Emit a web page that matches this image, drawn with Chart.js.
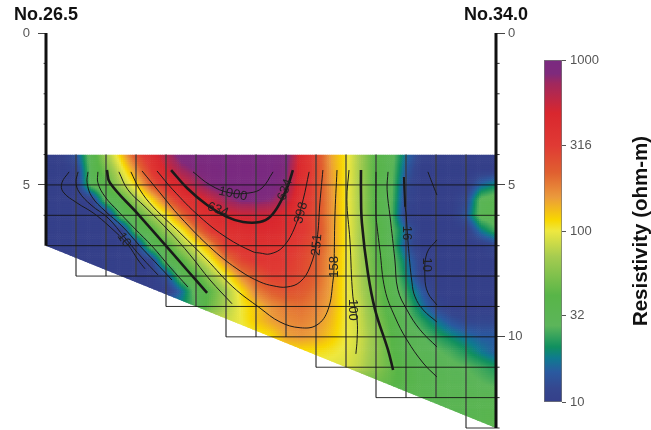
<!DOCTYPE html>
<html>
<head>
<meta charset="utf-8">
<title>Resistivity section</title>
<script src="https://cdn.jsdelivr.net/npm/chart.js@4"></script>
<style>
  body { margin: 0; background: #fff; }
  canvas { position: absolute; top: 0; }
  #section { left: 0; }
  #colorbar { left: 535px; }
</style>
</head>
<body>
<canvas id="section" width="651" height="430"></canvas>
<canvas id="colorbar" width="116" height="430"></canvas>
<script>
const _ = null;
const stationLabels = ['No.26.5', 'No.34.0'];
const stationDistance = [0, 15];
const leftTicks = [0, 5];
const rightTicks = [0, 5, 10];
const leftMinorTicks = [1, 2, 3, 4, 6];
const rightMinorTicks = [1, 2, 3, 4, 6, 7, 8, 9, 11, 12, 13];
const colorbarTicks = [10, 32, 100, 316, 1000];
const colorbarTitle = 'Resistivity (ohm-m)';

// resistivity, ohm-m
const distanceNodes = [0, 0.5, 1, 1.5, 2, 2.5, 3, 3.5, 4, 4.5, 5, 5.5, 6, 6.5, 7, 7.5, 8, 8.5, 9, 9.5, 10, 10.5, 11, 11.5, 12, 12.5, 13, 13.5, 14, 14.5, 15];
const depthNodes = [4, 4.5, 5, 5.5, 6, 6.5, 7, 7.5, 8, 8.5, 9, 9.5, 10, 10.5, 11, 11.5, 12, 12.5, 13];
const resistivity = [
  [10,10,14,33,67,125,260,420,650,940,1000,1000,1000,1000,1000,1000,950,450,280,150,108,68,40,32,17,11,10,10,10,10,10],
  [10,10,11,31,52,92,170,320,510,720,860,960,1000,1000,1000,1000,870,420,275,155,106,68,40,31,15,10,10,10,10,10,10],
  [10,10,10,30,41,71,114,230,380,500,680,880,1000,1000,1000,1000,800,400,270,160,105,68,39,30,13,10,10,10,10,16,20],
  [10,10,10,10,30,39,68,110,210,350,430,550,730,850,850,800,620,370,270,165,105,68,39,29,12,10,10,10,12,30,35],
  [10,10,10,10,10,30,39,66,102,200,340,420,490,530,540,530,440,330,260,165,105,68,39,28,11,10,10,10,14,32,35],
  [10,10,10,10,10,10,30,39,66,100,190,330,380,410,440,440,400,330,270,165,105,68,42,30,16,10,10,10,10,18,26],
  [10,10,10,10,10,10,11,31,39,66,97,165,325,350,370,370,340,300,250,165,105,68,42,30,14,10,10,10,10,10,12],
  [_,_,_,10,10,10,10,11,31,40,66,100,180,280,330,340,320,280,225,160,103,70,44,32,18,11,10,10,10,10,10],
  [_,_,_,_,_,10,10,10,13,32,40,66,100,170,240,300,300,270,220,155,102,72,46,34,20,11,10,10,10,10,10],
  [_,_,_,_,_,_,_,_,10,16,32,44,70,110,180,225,250,235,200,150,102,74,50,36,24,15,10,10,10,10,10],
  [_,_,_,_,_,_,_,_,_,20,28,50,74,102,128,165,190,200,180,145,102,80,52,37,28,18,12,10,10,10,10],
  [_,_,_,_,_,_,_,_,_,_,_,_,85,100,125,150,170,180,165,135,100,82,58,40,30,24,18,14,12,12,12],
  [_,_,_,_,_,_,_,_,_,_,_,_,_,95,100,112,150,160,150,125,100,84,62,42,31,29,24,20,17,15,15],
  [_,_,_,_,_,_,_,_,_,_,_,_,_,_,_,_,_,110,110,105,96,82,62,44,34,31,29,26,22,18,15],
  [_,_,_,_,_,_,_,_,_,_,_,_,_,_,_,_,_,_,_,_,92,78,60,46,38,33,31,30,28,25,22],
  [_,_,_,_,_,_,_,_,_,_,_,_,_,_,_,_,_,_,_,_,_,_,50,44,38,34,32,31,30,28,26],
  [_,_,_,_,_,_,_,_,_,_,_,_,_,_,_,_,_,_,_,_,_,_,_,_,_,35,33,32,32,32,32],
  [_,_,_,_,_,_,_,_,_,_,_,_,_,_,_,_,_,_,_,_,_,_,_,_,_,_,_,33,33,34,35],
  [_,_,_,_,_,_,_,_,_,_,_,_,_,_,_,_,_,_,_,_,_,_,_,_,_,_,_,_,_,36,38]
];

const paletteValues = [1000, 832, 731, 489, 316, 219, 158, 116, 100, 71, 42, 28, 21, 18, 15, 12, 10];
const paletteColors = ['#7a2a80', '#7f2a7c', '#a0285e', '#d9272e', '#e03a34', '#e06030', '#eb9a3c', '#f8d700', '#eee840', '#a6cc50', '#58b548', '#5cb55a', '#10905f', '#0f7a90', '#2a5aa0', '#35478f', '#35408a'];

// section outline and the depth each grid column stops at
const outlineDistance = [0, 15, 15, 0];
const outlineDepth = [4, 4, 13, 7];
const cellBottoms = [7, 8, 8, 8, 9, 9, 10, 10, 10, 11, 11, 12, 12, 12, 13];
const gridTop = 4;
const gridDepths = [5, 6, 7, 8, 9, 10, 11, 12, 13];

// contours as [distance, depth]
const contourLeft10 = [[.77,4.57],[.53,4.93],[.57,5.23],[1.03,5.59],[1.57,5.92],[2.13,6.38],[2.73,6.97],[3.07,7.47],[3.3,7.76]];
const contourLeft16 = [[1.07,4.57],[1,4.9],[1.1,5.23],[1.5,5.66],[2.07,6.09],[2.63,6.74],[3.2,7.4],[3.73,7.96]];
const contourLeft25 = [[1.4,4.57],[1.37,4.93],[1.53,5.39],[1.97,5.86],[2.53,6.35],[3.13,7.01],[3.63,7.53],[4.2,8.13]];
const contourLeft40 = [[1.73,4.57],[1.73,4.93],[1.97,5.39],[2.4,5.86],[2.97,6.45],[3.53,7.01],[4.13,7.7],[4.73,8.36]];
const contourLeft63 = [[2.03,4.51],[2.13,4.93],[3.03,5.92],[4.03,7.04],[4.7,7.8],[5.37,8.55]];
const contourLeft100 = [[2.43,4.57],[2.73,5.16],[3.3,5.72],[4.13,6.55],[4.8,7.3],[5.47,8.13],[6.2,8.91]];
const contour158 = [[2.83,4.57],[3.13,5.16],[3.57,5.72],[4.47,6.58],[5.37,7.47],[6.23,8.36],[7.13,9.05],[7.8,9.51],[8.47,9.7],[9.03,9.61],[9.4,9.11],[9.57,8.13],[9.6,7.7],[9.63,6.05],[9.7,4.51]];
const contour251 = [[3.2,4.54],[3.8,5.26],[4.47,6.05],[5.57,7.14],[6.47,7.83],[7.13,8.19],[7.57,8.32],[8.03,8.36],[8.47,8.19],[8.8,7.7],[9.03,6.81],[9.13,5.59],[9.23,4.51]];
const contour398 = [[3.7,4.54],[4.23,5.16],[5.13,6.05],[6.03,6.74],[6.9,7.2],[7.13,7.24],[7.47,7.27],[7.9,7.04],[8.3,6.38],[8.57,5.49],[8.77,4.57]];
const contour634 = [[4.17,4.51],[4.7,5.1],[5.37,5.66],[6.03,6.05],[6.57,6.22],[7.13,6.22],[7.47,6.05],[7.8,5.59],[8.07,5],[8.23,4.51]];
const contour1000 = [[4.9,4.57],[5.47,5],[6.13,5.26],[6.8,5.26],[7.2,5.1],[7.57,4.57]];
const contourRight100 = [[10.1,4.51],[10.03,5.49],[10.13,6.81],[10.23,8.68],[10.37,9.44],[10.37,10.1],[10.33,10.56]];
const contourRight63 = [[10.5,4.51],[10.5,5.26],[10.53,6.25],[10.73,7.9],[10.97,9.11],[11.4,10.43],[11.57,11.09]];
const contourRight40 = [[11,4.57],[11,6.0],[11.03,6.32],[11.13,7.14],[11.3,8.45],[11.63,9.34],[12.03,10.1],[12.57,10.86],[13.03,11.32]];
const contourRight25 = [[11.4,4.57],[11.37,5.16],[11.47,6.05],[11.63,7.47],[11.73,8.45],[12.03,9.11],[12.47,9.77],[13.03,10.33]];
const contourRight16 = [[11.93,4.74],[11.97,5.72],[12,5.92],[12.07,6.91],[12.2,8.22],[12.3,8.68],[12.57,9.11],[13.03,9.51]];
const contourRight16Heavy = [[11.93,4.74],[11.97,5.72]];
const contourRight10Top = [[12.73,4.57],[12.87,4.93],[13.03,5.33]];
const contourRight10Low = [[13.03,6.81],[12.7,7.24],[12.63,8.03],[12.73,8.55],[13.03,8.95]];

const thinContours = [contourLeft10, contourLeft16, contourLeft25, contourLeft40, contourLeft100, contour158, contour251, contour398, contour1000, contourRight100, contourRight40, contourRight25, contourRight16, contourRight10Top, contourRight10Low];
const boldContours = [contourLeft63, contour634, contourRight63];

const contourLabels = ['10', '634', '1000', '634', '398', '251', '158', '100', '16', '10'];
const labelDistance = [2.6, 5.73, 6.23, 7.97, 8.5, 9.03, 9.6, 10.23, 12.03, 12.67];
const labelDepth = [6.81, 5.82, 5.3, 5.16, 5.92, 6.97, 7.7, 9.11, 6.58, 7.63];
const labelAngle = [55, 20, 12, -70, -75, -85, -90, 90, 90, 90];

const FONT = '"Liberation Sans", Arial, sans-serif';

function hexToRgb(h) {
  return [parseInt(h.slice(1, 3), 16), parseInt(h.slice(3, 5), 16), parseInt(h.slice(5, 7), 16)];
}
const paletteLog = paletteValues.map(Math.log10);
const paletteRgb = paletteColors.map(hexToRgb);

function colorFor(logv) {
  for (let i = 0; i < paletteLog.length - 1; i++) {
    if (logv >= paletteLog[i + 1]) {
      const t = (logv - paletteLog[i + 1]) / (paletteLog[i] - paletteLog[i + 1]);
      const a = paletteRgb[i + 1], b = paletteRgb[i];
      return `rgb(${a[0] + (b[0] - a[0]) * t},${a[1] + (b[1] - a[1]) * t},${a[2] + (b[2] - a[2]) * t})`;
    }
  }
  return paletteColors[paletteColors.length - 1];
}

// nodes under the section take the nearest value to their right, only used at the clipped edge
function nodeLog(r, c) {
  let v = resistivity[r][c];
  while (v === null) v = resistivity[r][++c];
  return Math.log10(v);
}

const fieldPlugin = {
  id: 'field',
  beforeDatasetsDraw(chart) {
    const { ctx } = chart;
    const xs = chart.scales.x, ys = chart.scales.y;
    ctx.save();
    ctx.beginPath();
    outlineDistance.forEach((d, i) => {
      ctx.lineTo(xs.getPixelForValue(d), ys.getPixelForValue(outlineDepth[i]));
    });
    ctx.closePath();
    ctx.clip();
    const sub = 8;
    for (let r = 0; r < depthNodes.length - 1; r++) {
      const y0 = ys.getPixelForValue(depthNodes[r]), y1 = ys.getPixelForValue(depthNodes[r + 1]);
      for (let c = 0; c < distanceNodes.length - 1; c++) {
        const x0 = xs.getPixelForValue(distanceNodes[c]), x1 = xs.getPixelForValue(distanceNodes[c + 1]);
        const a = nodeLog(r, c), b = nodeLog(r, c + 1), d = nodeLog(r + 1, c), e = nodeLog(r + 1, c + 1);
        for (let i = 0; i < sub; i++) {
          const v = (i + 0.5) / sub;
          for (let j = 0; j < sub; j++) {
            const u = (j + 0.5) / sub;
            ctx.fillStyle = colorFor((a * (1 - u) + b * u) * (1 - v) + (d * (1 - u) + e * u) * v);
            ctx.fillRect(x0 + (x1 - x0) * j / sub, y0 + (y1 - y0) * i / sub, (x1 - x0) / sub + 0.6, (y1 - y0) / sub + 0.6);
          }
        }
      }
    }
    ctx.restore();
  },
  afterDatasetsDraw(chart) {
    const { ctx } = chart;
    const xs = chart.scales.x, ys = chart.scales.y;
    ctx.save();
    ctx.textAlign = 'center';
    ctx.textBaseline = 'middle';
    ctx.fillStyle = '#222';
    ctx.font = '13px ' + FONT;
    contourLabels.forEach((t, i) => {
      ctx.save();
      ctx.translate(xs.getPixelForValue(labelDistance[i]), ys.getPixelForValue(labelDepth[i]));
      ctx.rotate(labelAngle[i] * Math.PI / 180);
      ctx.fillText(t, 0, 0);
      ctx.restore();
    });
    ctx.fillStyle = '#111';
    ctx.font = 'bold 18px ' + FONT;
    stationLabels.forEach((t, i) => {
      ctx.fillText(t, xs.getPixelForValue(stationDistance[i]), 15);
    });
    ctx.restore();
  }
};

const barTitlePlugin = {
  id: 'barTitle',
  afterDraw(chart) {
    const { ctx } = chart;
    const ys = chart.scales.y;
    ctx.save();
    ctx.translate(106, (ys.top + ys.bottom) / 2);
    ctx.rotate(-Math.PI / 2);
    ctx.textAlign = 'center';
    ctx.textBaseline = 'middle';
    ctx.fillStyle = '#111';
    ctx.font = 'bold 20.5px ' + FONT;
    ctx.fillText(colorbarTitle, 0, 0);
    ctx.restore();
  }
};

function verticalGrid() {
  const pts = [];
  for (let i = 1; i < cellBottoms.length; i++) {
    const bottom = Math.max(cellBottoms[i - 1], cellBottoms[i]);
    pts.push({ x: i, y: gridTop }, { x: i, y: bottom }, { x: NaN, y: NaN });
  }
  return pts;
}

function horizontalGrid() {
  const pts = [];
  gridDepths.forEach(d => {
    const first = cellBottoms.findIndex(b => b >= d);
    pts.push({ x: first, y: d }, { x: 15, y: d }, { x: NaN, y: NaN });
  });
  return pts;
}

function minorPoints(list, from, to) {
  const pts = [];
  list.forEach(d => pts.push({ x: from, y: d }, { x: to, y: d }, { x: NaN, y: NaN }));
  return pts;
}

function contourSet(points, width) {
  return {
    data: points.map(p => ({ x: p[0], y: p[1] })),
    showLine: true, borderColor: '#1a1a1a', borderWidth: width,
    pointRadius: 0, tension: 0.4, fill: false, clip: false
  };
}

function plainSet(points, color, width) {
  return {
    data: points, showLine: true, borderColor: color, borderWidth: width,
    pointRadius: 0, tension: 0, fill: false, clip: false, spanGaps: false
  };
}

// the tick label margins would otherwise push the plot up from the bottom edge
function fitVertical(width) {
  return s => { s.width = width; s.paddingTop = 0; s.paddingBottom = 0; };
}

new Chart(document.getElementById('section'), {
  type: 'scatter',
  plugins: [fieldPlugin],
  data: {
    datasets: [
      plainSet([{ x: 0, y: 0 }, { x: 0, y: 7 }], '#111', 3),
      plainSet([{ x: 15, y: 0 }, { x: 15, y: 13 }], '#111', 3),
      plainSet(minorPoints(leftMinorTicks, -0.08, 0), '#333', 1),
      plainSet(minorPoints(rightMinorTicks, 15, 15.12), '#333', 1),
      ...boldContours.map(c => contourSet(c, 2.6)),
      contourSet(contourRight16Heavy, 2),
      ...thinContours.map(c => contourSet(c, 1)),
      plainSet(horizontalGrid(), 'rgba(15,15,15,0.85)', 1),
      plainSet(verticalGrid(), 'rgba(60,60,60,0.55)', 1)
    ]
  },
  options: {
    responsive: false,
    animation: false,
    layout: { padding: { top: 33, bottom: 2, left: 0, right: 0 } },
    plugins: { legend: { display: false }, tooltip: { enabled: false } },
    scales: {
      x: { type: 'linear', display: false, min: 0, max: 15 },
      y: {
        type: 'linear', position: 'left', reverse: true, min: 0, max: 13,
        afterFit: fitVertical(46),
        afterBuildTicks: s => { s.ticks = leftTicks.map(v => ({ value: v })); },
        border: { display: false },
        grid: { drawOnChartArea: false, tickLength: 8, tickColor: '#444' },
        ticks: { color: '#555', font: { size: 13, family: FONT }, padding: 8, callback: v => String(v) }
      },
      y2: {
        type: 'linear', position: 'right', reverse: true, min: 0, max: 13,
        afterFit: fitVertical(155),
        afterBuildTicks: s => { s.ticks = rightTicks.map(v => ({ value: v })); },
        border: { display: false },
        grid: { drawOnChartArea: false, tickLength: 9, tickColor: '#444' },
        ticks: { color: '#555', font: { size: 13, family: FONT }, padding: 3, callback: v => String(v) }
      }
    }
  }
});

function barGradient(context) {
  const chart = context.chart;
  const ys = chart.scales.y;
  if (!chart.chartArea || !ys) return paletteColors[0];
  const top = ys.getPixelForValue(1000), bottom = ys.getPixelForValue(10);
  const g = chart.ctx.createLinearGradient(0, top, 0, bottom);
  paletteValues.forEach((v, i) => {
    g.addColorStop((ys.getPixelForValue(v) - top) / (bottom - top), paletteColors[i]);
  });
  return g;
}

new Chart(document.getElementById('colorbar'), {
  type: 'bar',
  plugins: [barTitlePlugin],
  data: {
    labels: [''],
    datasets: [{
      data: [[10, 1000]],
      backgroundColor: barGradient,
      borderColor: '#777', borderWidth: 1, borderSkipped: false,
      barPercentage: 1, categoryPercentage: 1
    }]
  },
  options: {
    responsive: false,
    animation: false,
    layout: { padding: { top: 60, bottom: 28, left: 9, right: 0 } },
    plugins: { legend: { display: false }, tooltip: { enabled: false } },
    scales: {
      x: { display: false },
      y: {
        type: 'logarithmic', position: 'right', min: 10, max: 1000,
        afterFit: fitVertical(89),
        afterBuildTicks: s => { s.ticks = colorbarTicks.map(v => ({ value: v })); },
        border: { display: false },
        grid: { drawOnChartArea: false, tickLength: 4, tickColor: '#555' },
        ticks: { color: '#555', font: { size: 13, family: FONT }, padding: 4, autoSkip: false, callback: v => String(v) }
      }
    }
  }
});
</script>
</body>
</html>
